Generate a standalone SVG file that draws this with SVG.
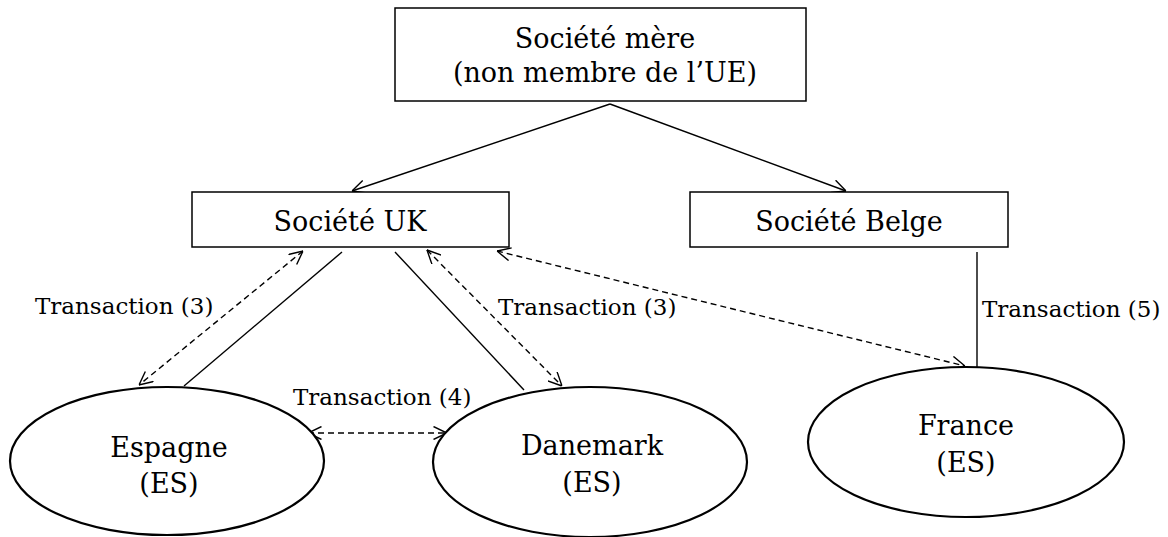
<svg xmlns="http://www.w3.org/2000/svg" width="1168" height="537" viewBox="0 0 1168 537">
<style>
.box{fill:#fff;stroke:#000;stroke-width:1.5}
.ell{fill:#fff;stroke:#000;stroke-width:2.2}
.big{font-family:"DejaVu Serif","Liberation Serif",serif;font-size:27px;fill:#000;text-anchor:middle}
.lbl{font-family:"DejaVu Serif","Liberation Serif",serif;font-size:23px;fill:#000}
.ln{stroke:#000;stroke-width:1.4;fill:none}
.ds{stroke:#000;stroke-width:1.4;fill:none;stroke-dasharray:6 4}
</style>
<defs>
<marker id="ah" viewBox="0 0 14 14" refX="14" refY="7" markerWidth="14" markerHeight="14" markerUnits="userSpaceOnUse" orient="auto-start-reverse">
<path d="M0.5,0.5 L14,7 L0.5,13.5" fill="none" stroke="#000" stroke-width="1.4"/>
</marker>
</defs>
<g id="connectors">
<line class="ln" x1="610" y1="104" x2="352" y2="191" marker-end="url(#ah)"/>
<line class="ln" x1="610" y1="104" x2="846" y2="191" marker-end="url(#ah)"/>
<line class="ln" x1="342" y1="252" x2="184" y2="386"/>
<line class="ds" x1="303" y1="251" x2="139" y2="385" marker-start="url(#ah)" marker-end="url(#ah)"/>
<line class="ln" x1="395" y1="252" x2="524" y2="390"/>
<line class="ds" x1="427" y1="250" x2="562" y2="386" marker-start="url(#ah)" marker-end="url(#ah)"/>
<line class="ds" x1="497" y1="251" x2="965" y2="366" marker-start="url(#ah)" marker-end="url(#ah)"/>
<line class="ln" x1="977" y1="252" x2="977" y2="367"/>
<line class="ds" x1="308" y1="433" x2="447" y2="433" marker-start="url(#ah)" marker-end="url(#ah)"/>
<text class="lbl" x="35" y="314">Transaction (3)</text>
<text class="lbl" x="498" y="315">Transaction (3)</text>
<text class="lbl" x="293" y="405">Transaction (4)</text>
<text class="lbl" x="982" y="317">Transaction (5)</text>
</g>
<g id="parent">
<rect class="box" x="395" y="8" width="411" height="93"/>
<text class="big" x="605" y="48">Société mère</text>
<text class="big" x="605" y="82">(non membre de l’UE)</text>
</g>
<g id="uk">
<rect class="box" x="192" y="192" width="317" height="55"/>
<text class="big" x="350" y="231">Société UK</text>
</g>
<g id="belge">
<rect class="box" x="690" y="192" width="318" height="55"/>
<text class="big" x="849" y="231">Société Belge</text>
</g>
<g id="espagne">
<ellipse class="ell" cx="167" cy="461" rx="157" ry="74"/>
<text class="big" x="169" y="457">Espagne</text>
<text class="big" x="169" y="493">(ES)</text>
</g>
<g id="danemark">
<ellipse class="ell" cx="590" cy="462" rx="157" ry="75"/>
<text class="big" x="592" y="455">Danemark</text>
<text class="big" x="592" y="492">(ES)</text>
</g>
<g id="france">
<ellipse class="ell" cx="966" cy="442" rx="158" ry="75"/>
<text class="big" x="966" y="435">France</text>
<text class="big" x="966" y="472">(ES)</text>
</g>
</svg>
